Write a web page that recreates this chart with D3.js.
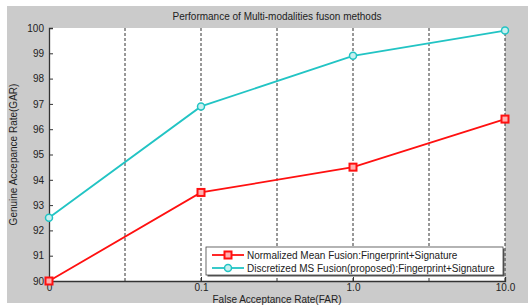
<!DOCTYPE html>
<html>
<head>
<meta charset="utf-8">
<title>Performance of Multi-modalities fuson methods</title>
<script src="https://cdn.jsdelivr.net/npm/d3@7"></script>
<style>
body { margin: 0; background: #fff; }
text { font-family: "Liberation Sans", Arial, sans-serif; fill: #222; }
.grid line { stroke: #333; stroke-dasharray: 3,2; stroke-width: 1; }
.axis path, .axis line { stroke: #333; }
</style>
</head>
<body>
<script>
// x positions are evenly spaced slots, labels only on every second slot
var farLabels = ["0", "0.1", "1.0", "10.0"];
var farSlots = [0, 2, 4, 6];
var gridSlots = [1, 2, 3, 4, 5, 6];
var yTicks = [90, 91, 92, 93, 94, 95, 96, 97, 98, 99, 100];

var meanFusion = [90.0, 93.5, 94.5, 96.4];   // Normalized Mean Fusion
var msFusion = [92.5, 96.9, 98.9, 99.9];     // Discretized MS Fusion (proposed)

var seriesNames = [
  "Normalized Mean Fusion:Fingerprint+Signature",
  "Discretized MS Fusion(proposed):Fingerprint+Signature"
];

var W = 528, H = 306;
var margin = {top: 28, right: 23, bottom: 25, left: 49};
var width = W - margin.left - margin.right,
    height = H - margin.top - margin.bottom;

var svg = d3.select("body").append("svg")
    .attr("width", W).attr("height", H);

// grey figure background
svg.append("rect")
    .attr("x", 7).attr("y", 6)
    .attr("width", W - 7).attr("height", 297)
    .attr("fill", "#cbcbcb");

var x = d3.scaleLinear().domain([0, 6]).range([0, width]);
var y = d3.scaleLinear().domain([90, 100]).range([height, 0]);

var g = svg.append("g")
    .attr("transform", "translate(" + margin.left + "," + margin.top + ")");

g.append("rect")
    .attr("width", width).attr("height", height)
    .attr("fill", "#fff");

// dashed vertical grid
g.append("g").attr("class", "grid")
  .selectAll("line").data(gridSlots).enter().append("line")
    .attr("x1", function(d) { return x(d); })
    .attr("x2", function(d) { return x(d); })
    .attr("y1", 0).attr("y2", height);

// y axis with inward ticks
var yAxis = g.append("g").attr("class", "axis")
    .call(d3.axisLeft(y).tickValues(yTicks).tickSize(-4).tickPadding(5));
yAxis.select(".domain").attr("stroke-width", 1.3);
yAxis.selectAll("text").attr("font-size", 10).attr("fill", "#222");

// x axis
var xAxis = g.append("g").attr("class", "axis")
    .attr("transform", "translate(0," + height + ")")
    .call(d3.axisBottom(x).tickValues(farSlots)
      .tickFormat(function(d, i) { return farLabels[i]; })
      .tickSize(-4).tickPadding(3));
xAxis.select(".domain").attr("stroke-width", 1.3);
xAxis.selectAll("text").attr("font-size", 10).attr("fill", "#222");

var line = d3.line()
    .x(function(d, i) { return x(farSlots[i]); })
    .y(function(d) { return y(d); });

var red = "#ff1010", cyan = "#22c4c4";

function drawSquare(sel, cx, cy) {
  sel.append("rect")
    .attr("x", cx - 3.5).attr("y", cy - 3.5)
    .attr("width", 7).attr("height", 7)
    .attr("fill", "#ffb0b0").attr("stroke", red).attr("stroke-width", 2);
}
function drawCircle(sel, cx, cy) {
  sel.append("circle")
    .attr("cx", cx).attr("cy", cy).attr("r", 3.5)
    .attr("fill", "#c8f0f0").attr("stroke", cyan).attr("stroke-width", 1.5);
}

g.append("path").datum(msFusion)
    .attr("d", line).attr("fill", "none")
    .attr("stroke", cyan).attr("stroke-width", 1.8);
msFusion.forEach(function(d, i) { drawCircle(g, x(farSlots[i]), y(d)); });

g.append("path").datum(meanFusion)
    .attr("d", line).attr("fill", "none")
    .attr("stroke", red).attr("stroke-width", 1.8);
meanFusion.forEach(function(d, i) { drawSquare(g, x(farSlots[i]), y(d)); });

// legend
var lg = svg.append("g").attr("transform", "translate(206,247)");
lg.append("rect").attr("x", 1.5).attr("y", 1.5).attr("width", 297).attr("height", 28)
    .attr("fill", "#555");
lg.append("rect").attr("width", 297).attr("height", 28)
    .attr("fill", "#fff").attr("stroke", "#444").attr("stroke-width", 0.8);
[0, 1].forEach(function(i) {
  var yy = 8 + i * 13;
  var c = i === 0 ? red : cyan;
  lg.append("line").attr("x1", 6).attr("x2", 38).attr("y1", yy).attr("y2", yy)
      .attr("stroke", c).attr("stroke-width", 1.8);
  if (i === 0) drawSquare(lg, 22, yy); else drawCircle(lg, 22, yy);
  lg.append("text").attr("x", 41).attr("y", yy + 3.5)
      .attr("font-size", 10).text(seriesNames[i]);
});

// title and axis labels
svg.append("text")
    .attr("x", margin.left + width / 2).attr("y", 20)
    .attr("text-anchor", "middle").attr("font-size", 10)
    .text("Performance of Multi-modalities fuson methods");

svg.append("text")
    .attr("x", margin.left + width / 2).attr("y", 303)
    .attr("text-anchor", "middle").attr("font-size", 10)
    .text("False Acceptance Rate(FAR)");

svg.append("text")
    .attr("transform", "translate(17," + (margin.top + height / 2) + ") rotate(-90)")
    .attr("text-anchor", "middle").attr("font-size", 10)
    .text("Genuine Accepance Rate(GAR)");
</script>
</body>
</html>
